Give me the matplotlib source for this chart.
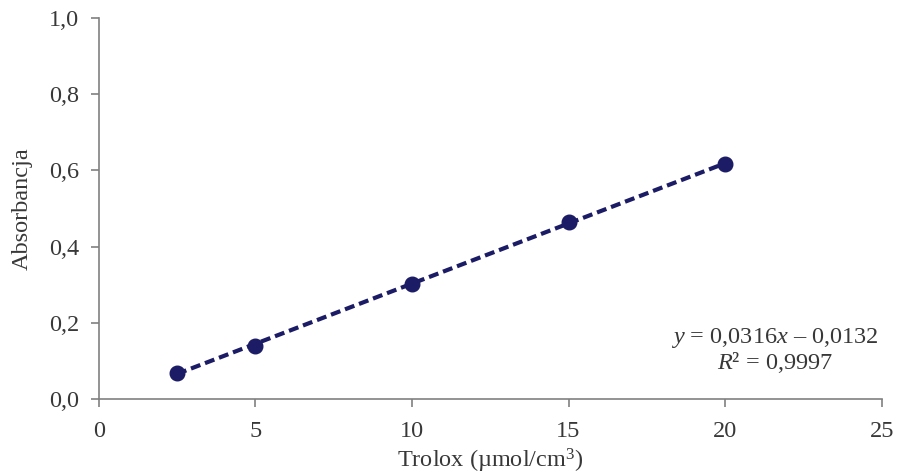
import numpy as np
import matplotlib
matplotlib.use("Agg")
import matplotlib.pyplot as plt
from matplotlib.ticker import FuncFormatter, MultipleLocator

plt.rcParams['font.family'] = ['Liberation Serif', 'DejaVu Serif']
plt.rcParams['mathtext.fontset'] = 'custom'
plt.rcParams['mathtext.rm'] = 'Liberation Serif'
plt.rcParams['mathtext.it'] = 'Liberation Serif:italic'

# data
trolox = [2.5, 5, 10, 15, 20]
absorb = [0.068, 0.139, 0.302, 0.465, 0.617]

# trendline as given on chart
slope = 0.0316
intercept = -0.0132
r2 = 0.9997

navy = '#1c1c66'
grey = '#808080'
txt = '#383838'

fig = plt.figure(figsize=(8.97, 4.75), dpi=100)
ax = fig.add_axes([0.110, 0.160, 0.873, 0.802])

xs = np.array([trolox[0], trolox[-1]])
ax.plot(xs, slope * xs + intercept, color=navy, lw=3, dashes=(2.4, 1.2), zorder=2)
ax.plot(trolox, absorb, 'o', color=navy, ms=10.5, zorder=3)

ax.set_xlim(0, 25)
ax.set_ylim(0, 1.0)
ax.xaxis.set_major_locator(MultipleLocator(5))
ax.yaxis.set_major_locator(MultipleLocator(0.2))
ax.yaxis.set_major_formatter(FuncFormatter(lambda v, p: f"{v:.1f}".replace('.', ',')))
ax.xaxis.set_major_formatter(FuncFormatter(lambda v, p: f"{v:.0f}"))

for s in ['top', 'right']:
    ax.spines[s].set_visible(False)
for s in ['left', 'bottom']:
    ax.spines[s].set_color(grey)
    ax.spines[s].set_linewidth(1.2)
ax.tick_params(colors=grey, width=1.2, length=6, labelsize=17.5, labelcolor=txt)
ax.tick_params(axis='x', pad=10)
ax.tick_params(axis='y', pad=8)

ax.set_xlabel('Trolox (µmol/cm$^{3}$)', fontsize=17.5, color=txt, labelpad=3)
ax.set_ylabel('Absorbancja', fontsize=17.5, color=txt, labelpad=12)

eq = f"$y$ = {slope:.4f}$x$ – {abs(intercept):.4f}".replace('.', ',')
rr = f"$R$² = {r2:.4f}".replace('.', ',')
ax.text(21.6, 0.16, eq, fontsize=17.5, color=txt, ha='center', va='center')
ax.text(21.6, 0.095, rr, fontsize=17.5, color=txt, ha='center', va='center')

fig.savefig('out.png', dpi=100)
